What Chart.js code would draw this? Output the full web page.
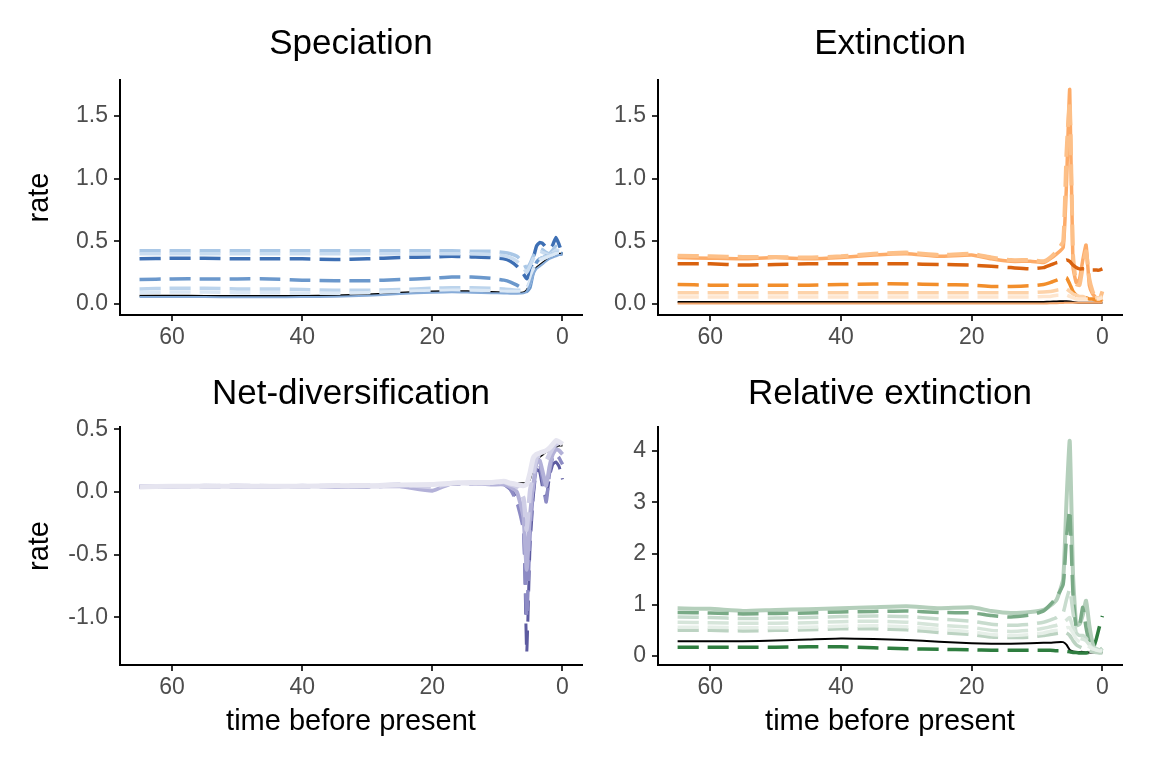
<!DOCTYPE html>
<html>
<head>
<meta charset="utf-8">
<script src="https://cdn.jsdelivr.net/npm/chart.js@4/dist/chart.umd.min.js"></script>
<style>
  body { margin: 0; background: #fff; }
  canvas { position: absolute; }
</style>
</head>
<body>
<canvas id="spec" width="590" height="360" style="left:0;top:0"></canvas>
<canvas id="ext" width="562" height="360" style="left:590px;top:0"></canvas>
<canvas id="net" width="590" height="408" style="left:0;top:360px"></canvas>
<canvas id="rel" width="562" height="408" style="left:590px;top:360px"></canvas>
<script>
"use strict";

// time points (million years before present)
const times = [65, 60, 55, 50, 45, 40, 35, 30, 25, 20, 17, 14, 11, 9, 8, 7, 6, 5.5, 5, 4.5, 4, 3.5, 3, 2.5, 2, 1.5, 1, 0.5, 0];
const xTicks = [0, 20, 40, 60];

// speciation
const specTrue = [0.065, 0.065, 0.064, 0.063, 0.063, 0.064, 0.068, 0.075, 0.09, 0.1, 0.104, 0.1, 0.096, 0.092, 0.09, 0.09, 0.092, 0.11, 0.16, 0.24, 0.29, 0.31, 0.33, 0.35, 0.37, 0.38, 0.39, 0.4, 0.4];
const specA = [0.36, 0.365, 0.365, 0.36, 0.36, 0.36, 0.355, 0.36, 0.37, 0.375, 0.38, 0.375, 0.37, 0.36, 0.34, 0.3, 0.24, 0.2, 0.26, 0.36, 0.46, 0.49, 0.48, 0.45, 0.44, 0.47, 0.53, 0.47, 0.4];
const specB = [0.195, 0.2, 0.2, 0.2, 0.2, 0.19, 0.185, 0.185, 0.195, 0.205, 0.215, 0.215, 0.205, 0.19, 0.175, 0.15, 0.12, 0.1, 0.13, 0.25, 0.33, 0.36, 0.37, 0.38, 0.38, 0.4, 0.42, 0.41, 0.4];
const specC = [0.425, 0.425, 0.425, 0.425, 0.425, 0.425, 0.425, 0.425, 0.425, 0.425, 0.425, 0.42, 0.42, 0.41, 0.4, 0.38, 0.33, 0.28, 0.32, 0.38, 0.42, 0.44, 0.43, 0.41, 0.4, 0.43, 0.46, 0.44, 0.41];
const specD = [0.4, 0.4, 0.4, 0.4, 0.4, 0.4, 0.4, 0.4, 0.4, 0.4, 0.4, 0.4, 0.395, 0.385, 0.37, 0.34, 0.29, 0.25, 0.3, 0.36, 0.4, 0.42, 0.41, 0.4, 0.39, 0.41, 0.43, 0.42, 0.4];
const specE = [0.12, 0.125, 0.125, 0.12, 0.12, 0.115, 0.11, 0.11, 0.115, 0.125, 0.13, 0.13, 0.125, 0.12, 0.115, 0.11, 0.11, 0.12, 0.18, 0.28, 0.33, 0.36, 0.37, 0.38, 0.39, 0.4, 0.41, 0.41, 0.4];
const specF = [0.09, 0.095, 0.095, 0.09, 0.09, 0.085, 0.085, 0.09, 0.1, 0.105, 0.11, 0.11, 0.105, 0.1, 0.1, 0.1, 0.1, 0.11, 0.17, 0.27, 0.32, 0.35, 0.36, 0.37, 0.38, 0.39, 0.4, 0.4, 0.39];
const specG = [0.055, 0.055, 0.055, 0.054, 0.054, 0.055, 0.058, 0.065, 0.08, 0.09, 0.094, 0.09, 0.086, 0.083, 0.082, 0.082, 0.085, 0.1, 0.15, 0.23, 0.28, 0.3, 0.32, 0.34, 0.36, 0.37, 0.38, 0.39, 0.39];

// extinction
const extTrue = [0.015, 0.015, 0.015, 0.015, 0.015, 0.015, 0.015, 0.015, 0.015, 0.015, 0.015, 0.015, 0.015, 0.016, 0.018, 0.02, 0.022, 0.022, 0.02, 0.015, 0.012, 0.01, 0.01, 0.01, 0.01, 0.01, 0.01, 0.01, 0.01];
const extA = [0.32, 0.32, 0.31, 0.315, 0.32, 0.32, 0.32, 0.32, 0.315, 0.31, 0.3, 0.29, 0.28, 0.29, 0.31, 0.33, 0.34, 0.35, 0.34, 0.31, 0.29, 0.28, 0.28, 0.28, 0.27, 0.27, 0.27, 0.27, 0.28];
const extB = [0.155, 0.15, 0.15, 0.15, 0.15, 0.155, 0.16, 0.16, 0.155, 0.15, 0.14, 0.14, 0.145, 0.155, 0.17, 0.19, 0.21, 0.21, 0.16, 0.1, 0.07, 0.06, 0.05, 0.05, 0.04, 0.04, 0.03, 0.03, 0.03];
const extC = [0.37, 0.365, 0.36, 0.37, 0.36, 0.37, 0.39, 0.4, 0.38, 0.39, 0.36, 0.34, 0.34, 0.33, 0.36, 0.4, 0.45, 0.95, 1.71, 0.3, 0.17, 0.2, 0.35, 0.47, 0.15, 0.08, 0.05, 0.02, 0.04];
const extD = [0.385, 0.38, 0.375, 0.375, 0.37, 0.38, 0.4, 0.41, 0.39, 0.4, 0.37, 0.35, 0.35, 0.34, 0.37, 0.42, 0.5, 1.2, 1.62, 0.4, 0.16, 0.15, 0.3, 0.42, 0.2, 0.1, 0.04, 0.03, 0.1];
const extE = [0.09, 0.09, 0.09, 0.09, 0.09, 0.09, 0.09, 0.09, 0.09, 0.09, 0.09, 0.09, 0.09, 0.095, 0.1, 0.11, 0.12, 0.12, 0.1, 0.08, 0.07, 0.06, 0.06, 0.05, 0.05, 0.05, 0.05, 0.05, 0.06];
const extF = [0.055, 0.055, 0.055, 0.055, 0.055, 0.055, 0.055, 0.055, 0.055, 0.055, 0.055, 0.055, 0.055, 0.06, 0.06, 0.07, 0.07, 0.07, 0.06, 0.05, 0.04, 0.04, 0.04, 0.04, 0.04, 0.04, 0.04, 0.04, 0.05];
const extG = [0.004, 0.004, 0.004, 0.004, 0.004, 0.004, 0.004, 0.004, 0.004, 0.004, 0.004, 0.004, 0.004, 0.004, 0.005, 0.006, 0.008, 0.01, 0.01, 0.01, 0.01, 0.01, 0.01, 0.01, 0.01, 0.01, 0.01, 0.01, 0.01];

// net diversification
const netTrue = [0.045, 0.045, 0.045, 0.045, 0.045, 0.045, 0.047, 0.05, 0.055, 0.06, 0.065, 0.07, 0.07, 0.07, 0.07, 0.07, 0.07, 0.07, 0.1, 0.2, 0.25, 0.28, 0.3, 0.32, 0.33, 0.35, 0.36, 0.37, 0.37];
const netA = [0.04, 0.045, 0.04, 0.045, 0.04, 0.045, 0.045, 0.05, 0.055, 0.06, 0.06, 0.07, 0.075, 0.06, 0.02, -0.05, -0.25, -1.28, -0.45, -0.05, 0.18, 0.16, 0.02, -0.05, 0.12, 0.22, 0.24, 0.2, 0.1];
const netB = [0.04, 0.05, 0.045, 0.04, 0.05, 0.04, 0.045, 0.04, 0.05, 0.05, 0.07, 0.065, 0.08, 0.06, 0.02, -0.08, -0.3, -1.0, -0.35, 0.0, 0.2, 0.22, 0.08, -0.08, 0.15, 0.28, 0.3, 0.27, 0.22];
const netC = [0.045, 0.04, 0.05, 0.045, 0.04, 0.05, 0.04, 0.045, 0.045, 0.01, 0.07, 0.07, 0.06, 0.06, 0.04, 0.0, -0.2, -0.62, -0.2, 0.05, 0.23, 0.25, 0.15, 0.05, 0.2, 0.3, 0.34, 0.33, 0.3];
const netD = [0.045, 0.045, 0.045, 0.05, 0.045, 0.045, 0.05, 0.05, 0.06, 0.04, 0.07, 0.07, 0.07, 0.08, 0.06, 0.04, -0.05, -0.3, 0.0, 0.15, 0.27, 0.29, 0.28, 0.25, 0.3, 0.35, 0.38, 0.38, 0.36];
const netE = [0.04, 0.045, 0.045, 0.045, 0.045, 0.045, 0.05, 0.05, 0.055, 0.06, 0.07, 0.075, 0.075, 0.085, 0.07, 0.06, 0.05, 0.06, 0.15, 0.27, 0.3, 0.31, 0.32, 0.33, 0.35, 0.38, 0.41, 0.4, 0.38];

// relative extinction
const relTrue = [0.29, 0.29, 0.29, 0.3, 0.32, 0.34, 0.33, 0.31, 0.28, 0.25, 0.24, 0.24, 0.25, 0.26, 0.26, 0.27, 0.27, 0.22, 0.12, 0.09, 0.08, 0.08, 0.08, 0.07, 0.07, 0.07, 0.07, 0.07, 0.07];
const relA = [0.17, 0.17, 0.17, 0.17, 0.18, 0.18, 0.16, 0.14, 0.13, 0.12, 0.11, 0.11, 0.11, 0.11, 0.11, 0.1, 0.1, 0.09, 0.08, 0.07, 0.07, 0.06, 0.06, 0.06, 0.07, 0.12, 0.3, 0.55, 0.78];
const relB = [0.85, 0.84, 0.82, 0.83, 0.84, 0.86, 0.87, 0.88, 0.85, 0.84, 0.79, 0.76, 0.8, 0.88, 1.0, 1.15, 1.4, 2.3, 2.85, 1.2, 0.55, 0.6, 0.95, 0.55, 0.25, 0.12, 0.1, 0.08, 0.1];
const relC = [0.93, 0.92, 0.88, 0.9, 0.91, 0.93, 0.95, 0.97, 0.93, 0.95, 0.88, 0.84, 0.86, 0.9, 0.98, 1.1, 1.5, 3.0, 4.2, 1.6, 0.6, 0.62, 0.8, 1.08, 0.6, 0.25, 0.12, 0.1, 0.15];
const relD = [0.76, 0.75, 0.73, 0.74, 0.75, 0.77, 0.78, 0.77, 0.72, 0.68, 0.62, 0.6, 0.62, 0.66, 0.7, 0.75, 0.85, 1.1, 1.3, 0.85, 0.45, 0.4, 0.4, 0.35, 0.25, 0.18, 0.15, 0.12, 0.12];
const relE = [0.66, 0.65, 0.64, 0.64, 0.65, 0.67, 0.68, 0.66, 0.6, 0.56, 0.5, 0.48, 0.5, 0.54, 0.57, 0.6, 0.65, 0.7, 0.75, 0.55, 0.4, 0.35, 0.33, 0.3, 0.22, 0.15, 0.12, 0.1, 0.1];
const relF = [0.56, 0.56, 0.55, 0.55, 0.56, 0.58, 0.59, 0.57, 0.52, 0.47, 0.42, 0.4, 0.42, 0.45, 0.48, 0.5, 0.52, 0.55, 0.55, 0.45, 0.33, 0.28, 0.25, 0.22, 0.18, 0.14, 0.12, 0.1, 0.1];
const relG = [0.5, 0.5, 0.49, 0.5, 0.51, 0.53, 0.53, 0.51, 0.46, 0.42, 0.37, 0.36, 0.37, 0.4, 0.42, 0.44, 0.46, 0.45, 0.4, 0.3, 0.22, 0.18, 0.15, 0.12, 0.1, 0.08, 0.07, 0.06, 0.06];

const FONT = "'Liberation Sans', Arial, sans-serif";

// one line of a panel
function line(values, color, dashed, width) {
  return {
    data: times.map((t, i) => ({ x: t, y: values[i] })),
    borderColor: color,
    borderWidth: width || 3.5,
    borderDash: dashed ? [21, 9] : [],
    pointRadius: 0,
    tension: 0.15,
    fill: false,
    order: 0
  };
}

function truth(values) {
  let ds = line(values, "#000000", false, 2);
  ds.order = 99; // underneath the estimates
  return ds;
}

function makePanel(id, title, datasets, o) {
  const ctx = document.getElementById(id);
  return new Chart(ctx, {
    type: "line",
    data: { datasets: datasets },
    options: {
      responsive: false,
      animation: false,
      layout: { padding: { left: 0, right: o.padRight, top: 0, bottom: 0 } },
      plugins: {
        legend: { display: false },
        tooltip: { enabled: false },
        title: {
          display: true,
          fullSize: false, // centre over the plot area, like ggplot facets
          text: title,
          color: "#000",
          font: { family: FONT, size: 35, weight: "normal", lineHeight: 1.2 },
          padding: { top: o.titleTop, bottom: o.titleBottom }
        }
      },
      scales: {
        x: {
          type: "linear",
          reverse: true,
          min: -3,
          max: 68,
          afterBuildTicks: (axis) => { axis.ticks = xTicks.map(v => ({ value: v })); },
          afterFit: (axis) => { axis.height = o.xHeight; },
          border: { display: true, color: "#000", width: 2 },
          grid: { display: true, drawOnChartArea: false, drawTicks: true, tickLength: 6, color: "#333", lineWidth: 2 },
          ticks: { color: "#4d4d4d", font: { family: FONT, size: 23 }, padding: 3, maxRotation: 0 },
          title: {
            display: o.xTitle,
            text: "time before present",
            color: "#000",
            font: { family: FONT, size: 29 },
            padding: { top: 0, bottom: 29 }
          }
        },
        y: {
          type: "linear",
          min: o.yMin,
          max: o.yMax,
          afterBuildTicks: (axis) => { axis.ticks = o.yTicks.map(v => ({ value: v })); },
          afterFit: (axis) => { axis.width = o.yWidth; },
          border: { display: true, color: "#000", width: 2 },
          grid: { display: true, drawOnChartArea: false, drawTicks: true, tickLength: 6, color: "#333", lineWidth: 2 },
          ticks: {
            color: "#4d4d4d",
            font: { family: FONT, size: 23 },
            padding: 6,
            callback: (v) => v.toFixed(o.decimals)
          },
          title: {
            display: o.yTitle,
            text: "rate",
            color: "#000",
            font: { family: FONT, size: 29 },
            padding: { top: 23, bottom: 0 }
          }
        }
      }
    }
  });
}

const topRate = [0, 0.5, 1.0, 1.5];

makePanel("spec", "Speciation", [
  truth(specTrue),
  line(specG, "#86abd8", false, 2),
  line(specF, "#dbe8f5", true),
  line(specE, "#bcd4ec", true),
  line(specB, "#6b98cc", true),
  line(specD, "#c9dcf0", true),
  line(specC, "#a9c7e6", true),
  line(specA, "#3d6fb4", true)
], { yMin: -0.088, yMax: 1.786, yTicks: topRate, decimals: 1, yWidth: 120, xHeight: 45,
     padRight: 8, titleTop: 23, titleBottom: 15, yTitle: true, xTitle: false });

makePanel("ext", "Extinction", [
  truth(extTrue),
  line(extG, "#f3a56b", false, 2),
  line(extF, "#fee6cf", true),
  line(extE, "#fdd3aa", true),
  line(extB, "#f28e2b", true),
  line(extA, "#d9620f", true),
  line(extD, "#fdc088", true, 4),
  line(extC, "#fdab68", false, 3.5)
], { yMin: -0.088, yMax: 1.786, yTicks: topRate, decimals: 1, yWidth: 68, xHeight: 45,
     padRight: 30, titleTop: 23, titleBottom: 15, yTitle: false, xTitle: false });

makePanel("net", "Net-diversification", [
  line(netE, "#e6e5f0", false, 5),
  line(netD, "#cfcee6", true, 4.5),
  line(netC, "#b3b1d8", false, 4),
  line(netB, "#8d8bc4", true, 3.5),
  line(netA, "#5d5ba0", true, 3),
  truth(netTrue)
], { yMin: -1.38, yMax: 0.518, yTicks: [-1.0, -0.5, 0.0, 0.5], decimals: 1, yWidth: 120, xHeight: 103,
     padRight: 8, titleTop: 13, titleBottom: 12, yTitle: true, xTitle: true });

makePanel("rel", "Relative extinction", [
  truth(relTrue),
  line(relF, "#e6efe8", true),
  line(relE, "#d6e5da", true),
  line(relG, "#bcd3c2", true),
  line(relD, "#c8dcce", true),
  line(relB, "#79aa86", true),
  line(relC, "#b4cfbb", false, 4),
  line(relA, "#2e7d3f", true)
], { yMin: -0.176, yMax: 4.47, yTicks: [0, 1, 2, 3, 4], decimals: 0, yWidth: 68, xHeight: 103,
     padRight: 30, titleTop: 13, titleBottom: 12, yTitle: false, xTitle: true });
</script>
</body>
</html>
